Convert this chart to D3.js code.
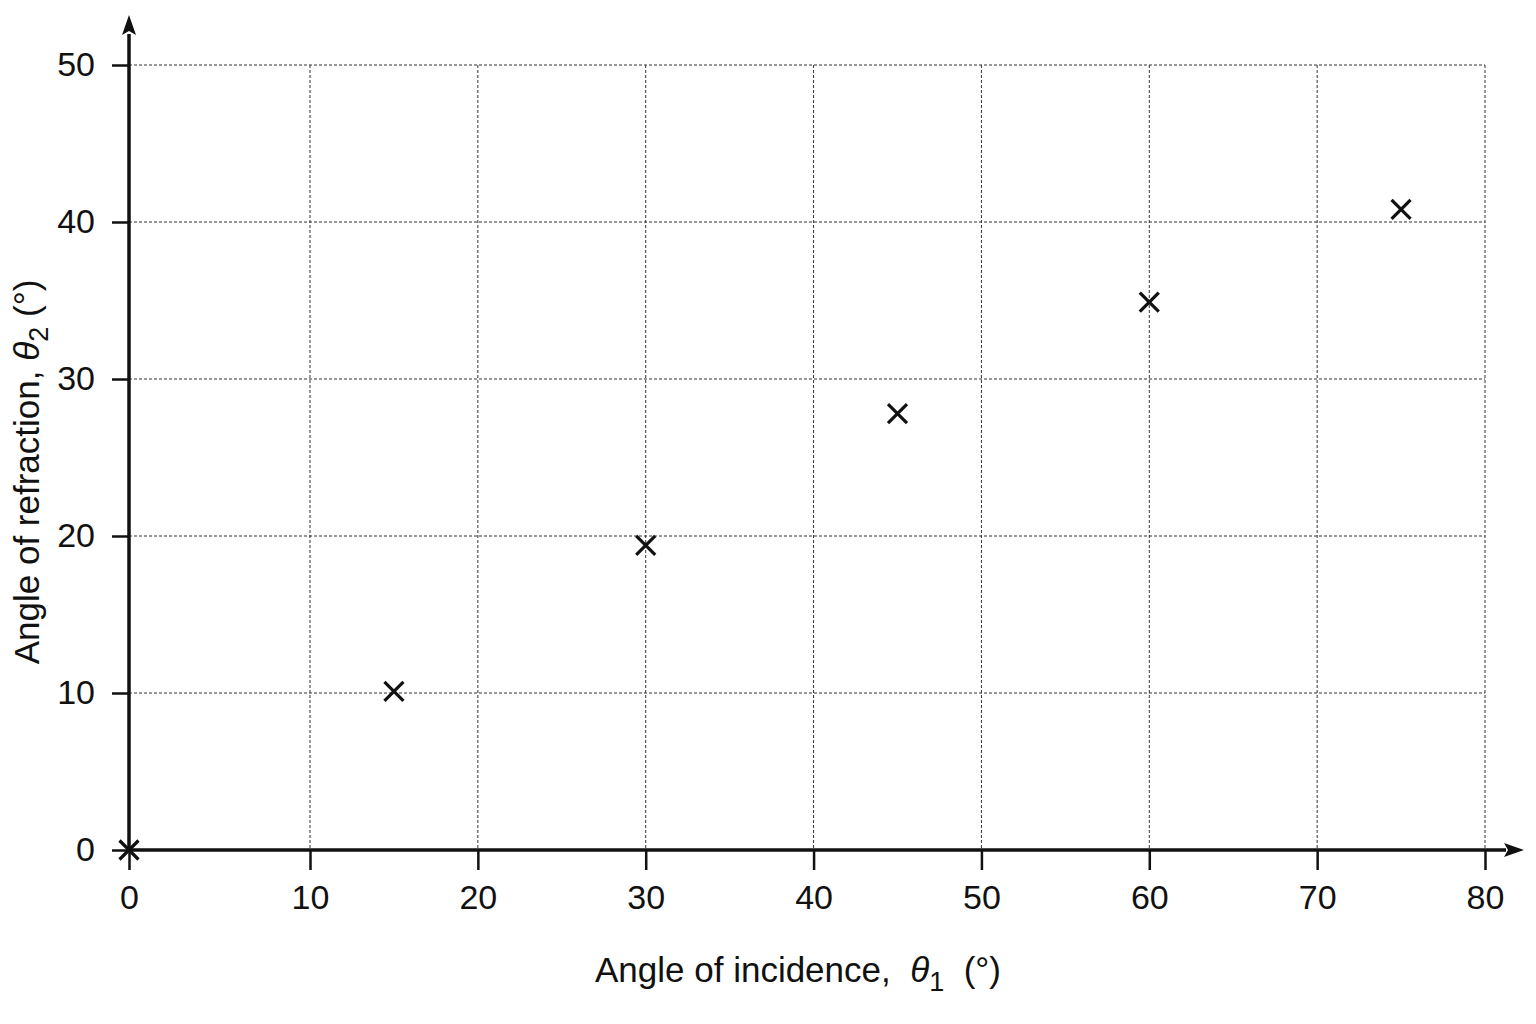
<!DOCTYPE html>
<html>
<head>
<meta charset="utf-8">
<script src="https://cdn.jsdelivr.net/npm/d3@7"></script>
<style>
  body { margin: 0; background: #fff; }
  text { font-family: "Liberation Sans", Arial, sans-serif; fill: #111; white-space: pre; }
</style>
</head>
<body>
<svg id="chart" width="1536" height="1024"></svg>
<script>
// data
const incidence = [0, 15, 30, 45, 60, 75];
const refraction = [0, 10.1, 19.4, 27.8, 34.9, 40.8];
const xTicks = [0, 10, 20, 30, 40, 50, 60, 70, 80];
const yTicks = [0, 10, 20, 30, 40, 50];

const svg = d3.select('#chart');

// the first x interval is drawn wider than the rest in the original
const x = d3.scaleLinear()
    .domain([0, 10, 80])
    .range([129, 310, 1485]);

const y = d3.scaleLinear()
    .domain([0, 50])
    .range([850, 65]);

// grid
const grid = svg.append('g')
    .attr('stroke', '#333')
    .attr('stroke-width', 1)
    .attr('stroke-dasharray', '3,2');

grid.selectAll('line.v')
    .data(xTicks.filter(d => d > 0))
    .join('line')
    .attr('class', 'v')
    .attr('x1', d => x(d)).attr('x2', d => x(d))
    .attr('y1', y(50)).attr('y2', y(0));

grid.selectAll('line.h')
    .data(yTicks.filter(d => d > 0))
    .join('line')
    .attr('class', 'h')
    .attr('x1', x(0)).attr('x2', x(80))
    .attr('y1', d => y(d)).attr('y2', d => y(d));

// axes
const xAxis = d3.axisBottom(x)
    .tickValues(xTicks)
    .tickSize(20)
    .tickPadding(15);

const gx = svg.append('g')
    .attr('transform', `translate(0,${y(0)})`)
    .call(xAxis);
gx.select('.domain').remove();
gx.selectAll('line').attr('stroke', '#111').attr('stroke-width', 2.5);
gx.selectAll('text')
    .style('font-size', '34px')
    .attr('font-family', null);

const yAxis = d3.axisLeft(y)
    .tickValues(yTicks)
    .tickSize(17)
    .tickPadding(17);

const gy = svg.append('g')
    .attr('transform', `translate(${x(0)},0)`)
    .call(yAxis);
gy.select('.domain').remove();
gy.selectAll('line').attr('stroke', '#111').attr('stroke-width', 2.5);
gy.selectAll('text')
    .style('font-size', '34px')
    .attr('font-family', null);

// axis lines with arrow heads
const axisLines = svg.append('g')
    .attr('stroke', '#111')
    .attr('stroke-width', 3.5);

axisLines.append('line')
    .attr('x1', x(0)).attr('y1', y(0))
    .attr('x2', 1506).attr('y2', y(0));
axisLines.append('line')
    .attr('x1', x(0)).attr('y1', y(0))
    .attr('x2', x(0)).attr('y2', 34);

svg.append('path')
    .attr('d', `M1524,${y(0)} L1504,${y(0) - 7} L1508,${y(0)} L1504,${y(0) + 7} Z`)
    .attr('fill', '#111');
svg.append('path')
    .attr('d', `M${x(0)},15 L${x(0) - 7},35 L${x(0)},31 L${x(0) + 7},35 Z`)
    .attr('fill', '#111');

// data crosses
const s = 9.5;
svg.append('g')
    .selectAll('path')
    .data(incidence.map((d, i) => ({ xv: d, yv: refraction[i] })))
    .join('path')
    .attr('d', d => {
        const cx = x(d.xv), cy = y(d.yv);
        return `M${cx - s},${cy - s}L${cx + s},${cy + s}M${cx - s},${cy + s}L${cx + s},${cy - s}`;
    })
    .attr('stroke', '#111')
    .attr('stroke-width', 3.2)
    .attr('fill', 'none');

// axis titles
const xTitle = svg.append('text')
    .attr('x', 798)
    .attr('y', 982)
    .attr('text-anchor', 'middle')
    .style('font-size', '35px');
xTitle.append('tspan').text('Angle of incidence,  ');
xTitle.append('tspan').attr('font-style', 'italic').text('θ');
xTitle.append('tspan').attr('dy', 9).style('font-size', '27px').text('1');
xTitle.append('tspan').attr('dy', -9).text('  (°)');

const yTitle = svg.append('text')
    .attr('transform', 'translate(39,472) rotate(-90)')
    .attr('text-anchor', 'middle')
    .style('font-size', '35px');
yTitle.append('tspan').text('Angle of refraction, ');
yTitle.append('tspan').attr('font-style', 'italic').text('θ');
yTitle.append('tspan').attr('dy', 9).style('font-size', '27px').text('2');
yTitle.append('tspan').attr('dy', -9).text(' (°)');
</script>
</body>
</html>
